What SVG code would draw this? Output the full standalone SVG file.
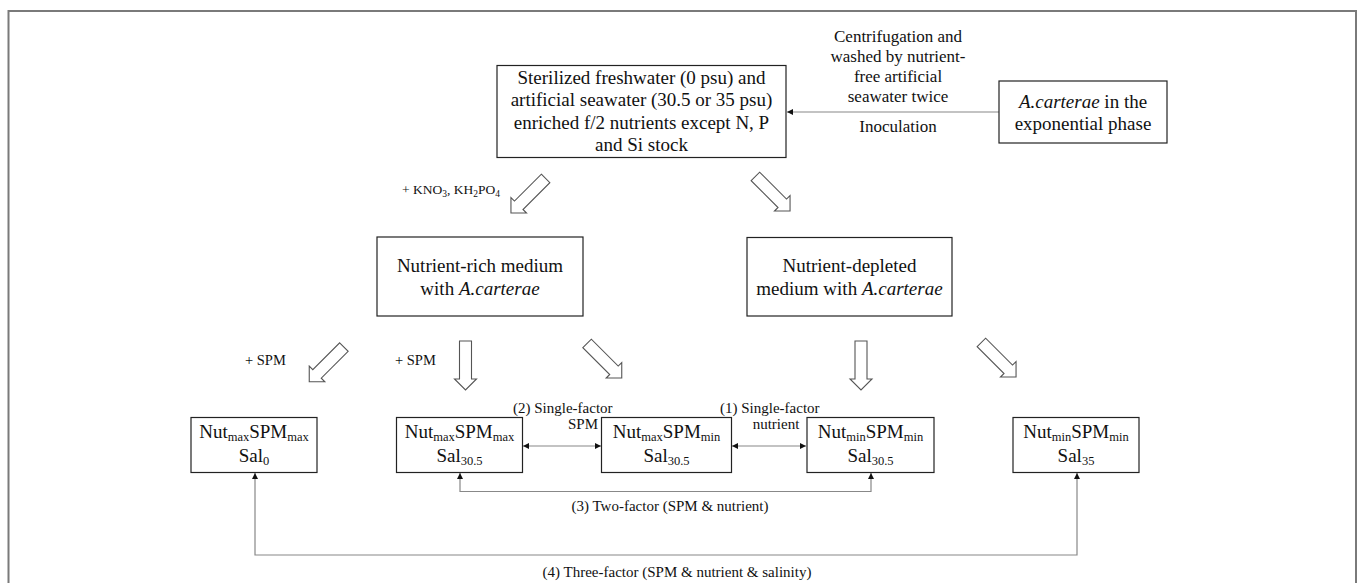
<svg xmlns="http://www.w3.org/2000/svg" xmlns:xlink="http://www.w3.org/1999/xlink" width="1358" height="583" viewBox="0 0 1358 583">
<style>
text { font-family: "Liberation Serif", "Times New Roman", serif; fill: #111; }
.box { fill: #fff; stroke: #222; stroke-width: 1.2; }
.t19 { font-size: 19px; text-anchor: middle; }
.t17 { font-size: 17px; text-anchor: middle; }
.t15 { font-size: 15px; }
.conn { fill: none; stroke: #888; stroke-width: 1.2; }
.blk { fill: #fff; stroke: #555; stroke-width: 1.1; stroke-linejoin: miter; }
.it { font-style: italic; }
.sub { font-size: 12.5px; }
</style>
<defs>
<marker id="ah" viewBox="0 0 10 10" refX="10" refY="5" markerWidth="6" markerHeight="6" markerUnits="userSpaceOnUse" orient="auto-start-reverse">
<path d="M0,0 L10,5 L0,10 Z" fill="#111"/>
</marker>
<path id="blkarrow" class="blk" d="M-6,0 H6 V38 H11 L0,49 L-11,38 H-6 Z"/>
</defs>
<rect x="8.5" y="11" width="1347.5" height="600" fill="none" stroke="#7a7a7a" stroke-width="2"/>

<g id="connectors">
<line class="conn" x1="999" y1="112" x2="787" y2="112" marker-end="url(#ah)"/>
<line class="conn" x1="523" y1="446" x2="601" y2="446" marker-start="url(#ah)" marker-end="url(#ah)"/>
<line class="conn" x1="732" y1="446" x2="806" y2="446" marker-start="url(#ah)" marker-end="url(#ah)"/>
<polyline class="conn" points="460,473 460,491.5 871,491.5 871,473" marker-start="url(#ah)" marker-end="url(#ah)"/>
<polyline class="conn" points="255,473 255,555 1077,555 1077,473" marker-start="url(#ah)" marker-end="url(#ah)"/>
<use xlink:href="#blkarrow" transform="translate(545.6,178.4) rotate(45)"/>
<use xlink:href="#blkarrow" transform="translate(755.4,176.4) rotate(-45)"/>
<use xlink:href="#blkarrow" transform="translate(343.9,347.1) rotate(45)"/>
<use xlink:href="#blkarrow" transform="translate(465.5,341)"/>
<use xlink:href="#blkarrow" transform="translate(587.1,343.4) rotate(-45)"/>
<use xlink:href="#blkarrow" transform="translate(861,341)"/>
<use xlink:href="#blkarrow" transform="translate(981.4,342.4) rotate(-45)"/>
</g>

<g id="labels">
<text class="t17" x="898" y="42">Centrifugation and</text>
<text class="t17" x="898" y="62">washed by nutrient-</text>
<text class="t17" x="898" y="82">free artificial</text>
<text class="t17" x="898" y="102">seawater twice</text>
<text class="t17" x="898" y="132">Inoculation</text>
<text x="402" y="194" font-size="13.5">+ KNO<tspan font-size="9.5" dy="3">3</tspan><tspan dy="-3">, KH</tspan><tspan font-size="9.5" dy="3">2</tspan><tspan dy="-3">PO</tspan><tspan font-size="9.5" dy="3">4</tspan></text>
<text x="245" y="365" font-size="14.5">+ SPM</text>
<text x="395" y="365" font-size="14.5">+ SPM</text>
<text class="t15" x="513" y="413">(2) Single-factor</text>
<text class="t15" x="583" y="429" text-anchor="middle">SPM</text>
<text class="t15" x="720" y="413">(1) Single-factor</text>
<text class="t15" x="776" y="429" text-anchor="middle">nutrient</text>
<text class="t15" x="670" y="511" text-anchor="middle">(3)  Two-factor (SPM &amp; nutrient)</text>
<text class="t15" x="677" y="577" text-anchor="middle">(4) Three-factor (SPM &amp; nutrient &amp; salinity)</text>
</g>

<g id="node-stock">
<rect class="box" x="497" y="65.5" width="289" height="92"/>
<text class="t19" x="641.5" y="83.5">Sterilized freshwater (0 psu) and</text>
<text class="t19" x="641.5" y="106">artificial seawater (30.5 or 35 psu)</text>
<text class="t19" x="641.5" y="128.5">enriched f/2 nutrients except N, P</text>
<text class="t19" x="641.5" y="151">and Si stock</text>
</g>

<g id="node-culture">
<rect class="box" x="999" y="81" width="168" height="62"/>
<text class="t19" x="1083" y="107.5"><tspan class="it">A.carterae</tspan> in the</text>
<text class="t19" x="1083" y="130">exponential phase</text>
</g>

<g id="node-rich">
<rect class="box" x="377" y="237" width="206" height="79"/>
<text class="t19" x="480" y="272">Nutrient-rich medium</text>
<text class="t19" x="480" y="295">with <tspan class="it">A.carterae</tspan></text>
</g>

<g id="node-depleted">
<rect class="box" x="747" y="237.5" width="205" height="78.5"/>
<text class="t19" x="849.5" y="272">Nutrient-depleted</text>
<text class="t19" x="849.5" y="295">medium with <tspan class="it">A.carterae</tspan></text>
</g>

<g id="node-b1">
<rect class="box" x="191" y="417.5" width="126" height="55"/>
<text class="t19" x="254" y="438">Nut<tspan class="sub" dy="3">max</tspan><tspan dy="-3">SPM</tspan><tspan class="sub" dy="3">max</tspan></text>
<text class="t19" x="254" y="461.5">Sal<tspan class="sub" dy="3">0</tspan></text>
</g>

<g id="node-b2">
<rect class="box" x="396.5" y="417.5" width="126" height="55"/>
<text class="t19" x="459.5" y="438">Nut<tspan class="sub" dy="3">max</tspan><tspan dy="-3">SPM</tspan><tspan class="sub" dy="3">max</tspan></text>
<text class="t19" x="459.5" y="461.5">Sal<tspan class="sub" dy="3">30.5</tspan></text>
</g>

<g id="node-b3">
<rect class="box" x="601.5" y="417.5" width="130" height="55"/>
<text class="t19" x="666.5" y="438">Nut<tspan class="sub" dy="3">max</tspan><tspan dy="-3">SPM</tspan><tspan class="sub" dy="3">min</tspan></text>
<text class="t19" x="666.5" y="461.5">Sal<tspan class="sub" dy="3">30.5</tspan></text>
</g>

<g id="node-b4">
<rect class="box" x="807" y="417.5" width="127" height="55"/>
<text class="t19" x="870.5" y="438">Nut<tspan class="sub" dy="3">min</tspan><tspan dy="-3">SPM</tspan><tspan class="sub" dy="3">min</tspan></text>
<text class="t19" x="870.5" y="461.5">Sal<tspan class="sub" dy="3">30.5</tspan></text>
</g>

<g id="node-b5">
<rect class="box" x="1013" y="417.5" width="126" height="55"/>
<text class="t19" x="1076" y="438">Nut<tspan class="sub" dy="3">min</tspan><tspan dy="-3">SPM</tspan><tspan class="sub" dy="3">min</tspan></text>
<text class="t19" x="1076" y="461.5">Sal<tspan class="sub" dy="3">35</tspan></text>
</g>
</svg>
